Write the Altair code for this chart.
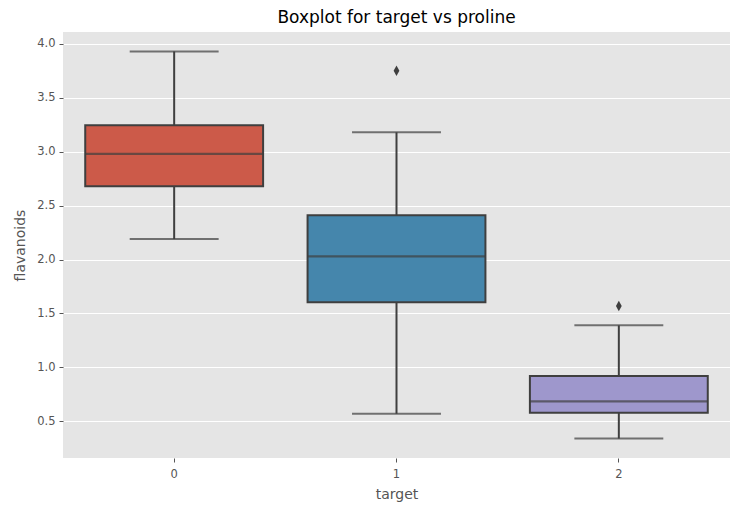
import altair as alt
import pandas as pd

targets = ["0", "1", "2"]
lower_whisker = [2.19, 0.57, 0.34]
q1 = [2.68, 1.605, 0.58]
median = [2.98, 2.03, 0.685]
q3 = [3.245, 2.41, 0.92]
upper_whisker = [3.93, 3.18, 1.39]
box_colors = ["#CC5A49", "#4586AC", "#9E97CC"]

outlier_target = ["1", "2"]
outlier_value = [3.75, 1.57]

stats = pd.DataFrame({
    "target": targets, "lo": lower_whisker, "q1": q1, "med": median,
    "q3": q3, "hi": upper_whisker, "color": box_colors,
})
outs = pd.DataFrame({"target": outlier_target, "value": outlier_value})

W, H = 667, 426
band = W / 3
line_col = "#3F3F3F"

x = alt.X("target:N", sort=targets, title="target",
          scale=alt.Scale(paddingInner=0, paddingOuter=0),
          axis=alt.Axis(labelAngle=0, grid=False, domain=False, tickColor="#555555",
                        tickSize=4, tickWidth=1, labelPadding=6, titlePadding=8,
                        labelColor="#555555", labelFontSize=11.5, titleFontSize=14,
                        titleColor="#555555", titleFontWeight="normal",
                        labelFont="DejaVu Sans", titleFont="DejaVu Sans"))
yscale = alt.Scale(domain=[0.16, 4.11], nice=False, zero=False)
y_axis = alt.Axis(values=[0.5, 1.0, 1.5, 2.0, 2.5, 3.0, 3.5, 4.0], format=".1f",
                  grid=True, gridColor="white", gridWidth=1, domain=False,
                  tickColor="#555555", tickSize=4, labelPadding=4,
                  labelColor="#555555", labelFontSize=11.5, titleFontSize=14,
                  titleColor="#555555", titleFontWeight="normal", titlePadding=9,
                  labelFont="DejaVu Sans", titleFont="DejaVu Sans")

base = alt.Chart(stats)

whisk_lo = base.mark_rule(color=line_col, strokeWidth=2).encode(
    x=x, y=alt.Y("lo:Q", scale=yscale, axis=y_axis, title="flavanoids"), y2="q1:Q")
whisk_hi = base.mark_rule(color=line_col, strokeWidth=2).encode(
    x=x, y=alt.Y("q3:Q", scale=yscale), y2="hi:Q")
cap_lo = base.mark_tick(color=line_col, thickness=2, size=band * 0.4, orient="horizontal").encode(
    x=x, y=alt.Y("lo:Q", scale=yscale))
cap_hi = base.mark_tick(color=line_col, thickness=2, size=band * 0.4, orient="horizontal").encode(
    x=x, y=alt.Y("hi:Q", scale=yscale))
box = base.mark_bar(size=band * 0.8, stroke=line_col, strokeWidth=2).encode(
    x=x, y=alt.Y("q1:Q", scale=yscale), y2="q3:Q",
    color=alt.Color("color:N", scale=None))
med = base.mark_tick(color=line_col, thickness=2.2, size=band * 0.8, orient="horizontal").encode(
    x=x, y=alt.Y("med:Q", scale=yscale))
pts = alt.Chart(outs).mark_point(
    shape="M0,-1L0.55,0L0,1L-0.55,0Z", filled=True, color=line_col, opacity=1, size=110
).encode(x=x, y=alt.Y("value:Q", scale=yscale))

chart = alt.layer(whisk_lo, whisk_hi, cap_lo, cap_hi, box, med, pts).properties(
    width=W, height=H,
    title=alt.TitleParams("Boxplot for target vs proline", fontSize=17, font="DejaVu Sans",
                          fontWeight="normal", color="black", offset=5),
    autosize=alt.AutoSizeParams(type="none"),
    padding={"left": 55, "top": 24, "right": 2, "bottom": 47},
).configure(
    background="white",
    view=alt.ViewConfig(fill="#E5E5E5", stroke=None),
)

chart.save("out.html", embed_options={"renderer": "svg", "actions": False})
